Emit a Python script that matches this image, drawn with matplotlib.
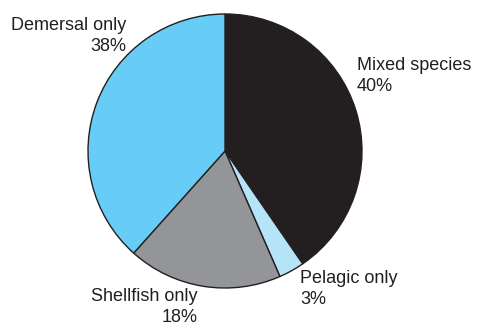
import matplotlib
matplotlib.use("Agg")
import matplotlib.pyplot as plt

plt.rcParams['font.family'] = ['Liberation Sans', 'DejaVu Sans']

# Share of vessels by catch type (%)
categories = ['Mixed species', 'Pelagic only', 'Shellfish only', 'Demersal only']
shares = [40, 3, 18, 38]
colors = ['#231f20', '#b5e3f8', '#939598', '#67cdf6']

# label anchor (x, y in pixels from top-left) and alignment for each slice
label_pos = [(357, 76, 'left'), (300, 289, 'left'), (198, 307, 'right'), (126, 36, 'right')]

W, H = 478, 322
fig = plt.figure(figsize=(W / 100, H / 100), dpi=100)
ax = fig.add_axes([0, 0, 1, 1])

ax.pie(shares, colors=colors, startangle=90, counterclock=False,
       center=(225, H - 151), radius=137,
       wedgeprops=dict(edgecolor='#231f20', linewidth=1.0))

# pie() resets the limits, so fix the pixel frame afterwards
ax.set_xlim(0, W)
ax.set_ylim(0, H)
ax.set_aspect('equal')
ax.axis('off')

for name, val, (x, y, ha) in zip(categories, shares, label_pos):
    ax.text(x, H - y, f"{name}\n{val}%", ha=ha, va='center', fontsize=13,
            color='#231f20', linespacing=1.3, multialignment=ha)

fig.savefig('out.png', dpi=100)
